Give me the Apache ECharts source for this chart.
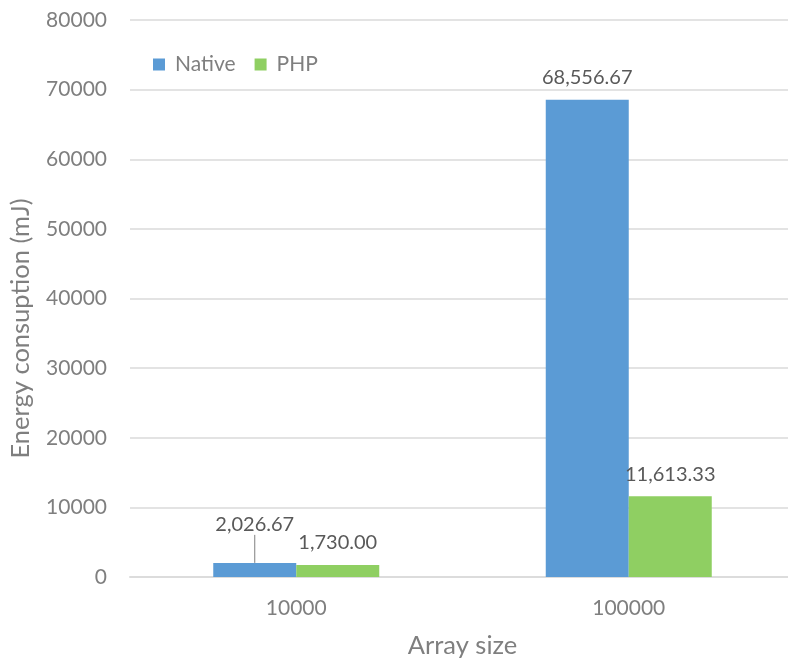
<!DOCTYPE html>
<html>
<head>
<meta charset="utf-8">
<script src="https://cdn.jsdelivr.net/npm/echarts@6/dist/echarts.min.js"></script>
<style>
  html, body { margin: 0; padding: 0; background: #fff; overflow: hidden; }
  #chart { width: 800px; height: 664px; }
</style>
</head>
<body>
<div id="chart"></div>
<script>
// Energy consumption of sorting arrays: native code vs PHP
const categories = ['10000', '100000'];
const nativeValues = [2026.67, 68556.67];
const phpValues = [1730.00, 11613.33];
const seriesNames = ['Native', 'PHP'];

const FONT = 'Lato, "Open Sans", sans-serif';
const fmt = v => v.toLocaleString('en-US', { minimumFractionDigits: 2, maximumFractionDigits: 2 });

const chart = echarts.init(document.getElementById('chart'));

const valueLabel = {
  show: true,
  position: 'top',
  distance: 12,
  fontFamily: FONT,
  fontSize: 20,
  color: '#595959',
  formatter: p => fmt(p.value)
};

// the small Native bar gets its label lifted with a leader line
const nativeData = nativeValues.map((v, i) =>
  i === 0 ? { value: v, labelLine: { show: true } } : v
);

chart.setOption({
  animation: false,
  backgroundColor: '#ffffff',
  textStyle: { fontFamily: FONT },
  legend: {
    left: 148,
    top: 49,
    itemWidth: 12,
    itemHeight: 12,
    itemGap: 19,
    icon: 'rect',
    textStyle: { fontFamily: FONT, fontSize: 21, color: '#7f7f7f', padding: [0, 0, 0, 5] },
    data: seriesNames
  },
  grid: { left: 130, top: 20, right: 5, bottom: 87, containLabel: false },
  xAxis: {
    type: 'category',
    data: categories,
    name: 'Array size',
    nameLocation: 'middle',
    nameGap: 56,
    nameTextStyle: { fontFamily: FONT, fontSize: 25.5, color: '#7f7f7f' },
    axisLine: { lineStyle: { color: '#dcdcdc', width: 2 } },
    axisTick: { show: false },
    axisLabel: { fontFamily: FONT, fontSize: 21, color: '#7f7f7f', margin: 21 }
  },
  yAxis: {
    type: 'value',
    min: 0,
    max: 80000,
    interval: 10000,
    name: 'Energy consuption (mJ)',
    nameLocation: 'middle',
    nameGap: 96,
    nameRotate: 90,
    nameTextStyle: { fontFamily: FONT, fontSize: 25.5, color: '#7f7f7f', padding: [0, 60, 0, 0] },
    axisLine: { show: false },
    axisTick: { show: false },
    axisLabel: { fontFamily: FONT, fontSize: 21, color: '#7f7f7f', margin: 23, formatter: v => String(v) },
    splitLine: { lineStyle: { color: '#e3e3e3', width: 2 } }
  },
  series: [
    {
      name: seriesNames[0],
      type: 'bar',
      data: nativeData,
      barWidth: 83,
      barGap: '0%',
      itemStyle: { color: '#5b9bd5' },
      label: valueLabel,
      labelLayout: p => (p.dataIndex === 0 ? { dy: -16 } : {}),
      labelLine: { show: false, length2: 0, lineStyle: { color: '#7f7f7f', width: 1 } }
    },
    {
      name: seriesNames[1],
      type: 'bar',
      data: phpValues,
      barWidth: 83,
      barGap: '0%',
      itemStyle: { color: '#8fcf62' },
      label: valueLabel
    }
  ]
});
</script>
</body>
</html>
